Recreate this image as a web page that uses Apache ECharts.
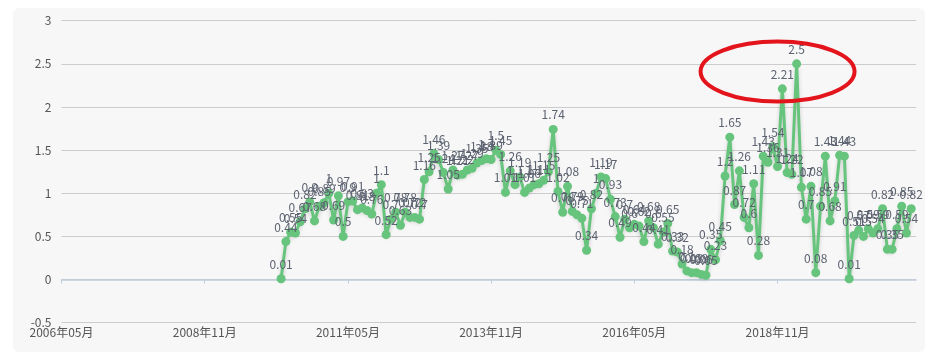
<!DOCTYPE html>
<html>
<head>
<meta charset="utf-8">
<script src="https://cdn.jsdelivr.net/npm/echarts@6/dist/echarts.min.js"></script>
<style>
html,body{margin:0;padding:0;background:#ffffff;width:928px;height:358px;overflow:hidden;}
#box{position:absolute;left:13px;top:8px;width:912px;height:344px;background:#f7f7f7;border-radius:6px;}
#chart{width:912px;height:344px;}
</style>
</head>
<body>
<div id="box"><div id="chart"></div></div>
<script>
// Category axis: monthly from 2006-05, 180 months
var startYear = 2006, startMonth = 5, monthCount = 180;
// Index of first month that has data (2010-03)
var firstDataIndex = 46;
// Monthly values
var values = [
  0.01, 0.44, 0.55, 0.54, 0.67, 0.82, 0.9, 0.68, 0.85, 0.89,
  1, 0.69, 0.97, 0.5, 0.9, 0.91, 0.81, 0.83, 0.8, 0.76,
  1, 1.1, 0.52, 0.7, 0.78, 0.63, 0.78, 0.72, 0.72, 0.7,
  1.16, 1.25, 1.46, 1.39, 1.24, 1.05, 1.27, 1.21, 1.22, 1.27,
  1.29, 1.35, 1.38, 1.4, 1.39, 1.5, 1.45, 1.01, 1.26, 1.1,
  1.19, 1.01, 1.06, 1.1, 1.11, 1.15, 1.25, 1.74, 1.02, 0.78,
  1.08, 0.79, 0.75, 0.71, 0.34, 0.82, 1, 1.19, 1.17, 0.93,
  0.73, 0.49, 0.7, 0.6, 0.64, 0.62, 0.44, 0.68, 0.6, 0.41,
  0.55, 0.65, 0.33, 0.32, 0.18, 0.1, 0.08, 0.08, 0.06, 0.05,
  0.35, 0.23, 0.45, 1.2, 1.65, 0.87, 1.26, 0.72, 0.6, 1.11,
  0.28, 1.43, 1.36, 1.54, 1.31, 2.21, 1.24, 1.22, 2.5, 1.07,
  0.7, 1.08, 0.08, 0.85, 1.43, 0.68, 0.91, 1.44, 1.43, 0.01,
  0.51, 0.57, 0.5, 0.59, 0.54, 0.59, 0.82, 0.35, 0.35, 0.59,
  0.85, 0.54, 0.82
];
var yTicks = { min: -0.5, max: 3, step: 0.5 };
// Highlighted region (annotation), in data terms
var highlightCenter = { index: 150, value: 2.41 };

var categories = [];
for (var i = 0; i < monthCount; i++) {
  var m = startMonth - 1 + i;
  var y = startYear + Math.floor(m / 12);
  var mm = (m % 12) + 1;
  categories.push(y + '年' + (mm < 10 ? '0' + mm : mm) + '月');
}
var seriesData = [];
for (var j = 0; j < monthCount; j++) {
  var k = j - firstDataIndex;
  seriesData.push(k >= 0 && k < values.length ? values[k] : null);
}

var font = '"Noto Sans CJK SC", "Noto Sans", sans-serif';
var green = '#66c47c';
var chart = echarts.init(document.getElementById('chart'), null, {renderer: 'canvas'});
chart.setOption({
  animation: false,
  backgroundColor: 'transparent',
  textStyle: { fontFamily: font },
  grid: { left: 48.5, right: 9, top: 12.7, bottom: 29.3, containLabel: false },
  xAxis: {
    type: 'category',
    data: categories,
    boundaryGap: false,
    axisLine: { show: true, lineStyle: { color: '#bfcddc', width: 1.5 } },
    axisTick: { show: true, interval: 29, length: 4, lineStyle: { color: '#bfcddc' } },
    axisLabel: { interval: 29, color: '#555555', fontSize: 12, fontFamily: font, margin: 4 },
    splitLine: { show: false }
  },
  yAxis: {
    type: 'value',
    min: yTicks.min, max: yTicks.max, interval: yTicks.step,
    axisLine: { show: false },
    axisTick: { show: false },
    axisLabel: { color: '#555555', fontSize: 12, fontFamily: font, margin: 10 },
    splitLine: { show: true, lineStyle: { color: '#cccccc', width: 1 } }
  },
  series: [{
    type: 'line',
    data: seriesData,
    symbol: 'circle',
    symbolSize: 9,
    showAllSymbol: true,
    connectNulls: false,
    itemStyle: { color: green },
    lineStyle: { color: green, width: 3, shadowColor: 'rgba(0,0,0,0.18)', shadowBlur: 4, shadowOffsetY: 3 },
    label: { show: true, position: 'top', distance: 4, color: '#5c6270', fontSize: 12, fontFamily: font },
    emphasis: { disabled: true }
  }]
});

var c = chart.convertToPixel({ gridIndex: 0 }, [highlightCenter.index, highlightCenter.value]);
chart.setOption({
  graphic: [{
    type: 'ellipse',
    shape: { cx: c[0], cy: c[1], rx: 77, ry: 30 },
    style: { fill: 'none', stroke: '#e3141c', lineWidth: 4 },
    z: 100
  }]
});
</script>
</body>
</html>
